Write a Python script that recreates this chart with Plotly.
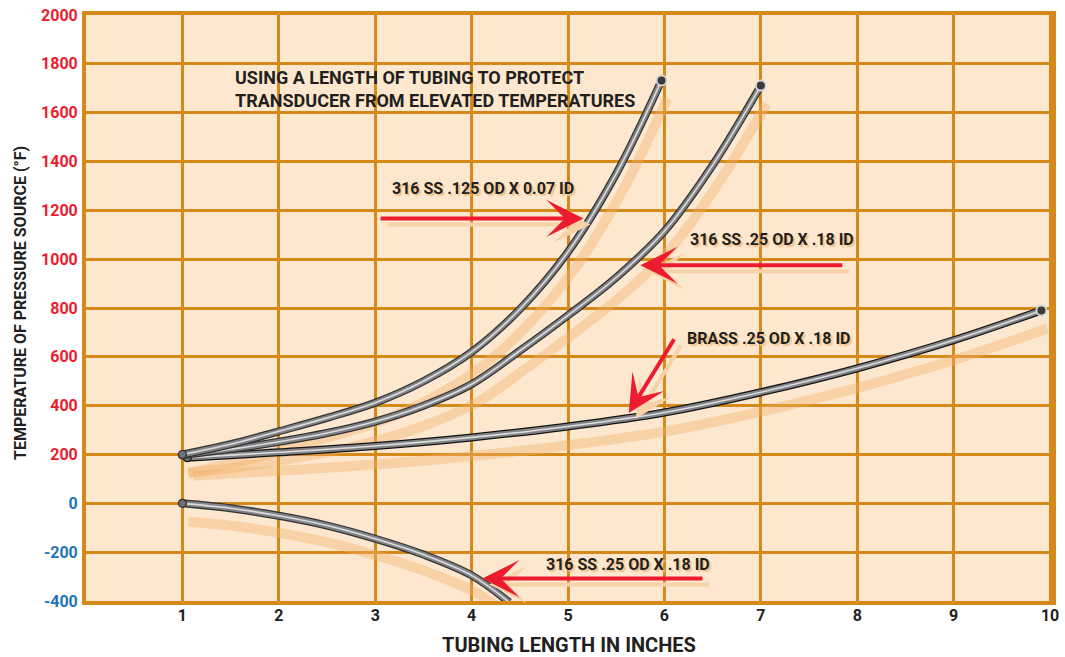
import plotly.graph_objects as go

# ---------------- data ----------------
x_ticks = [1, 2, 3, 4, 5, 6, 7, 8, 9, 10]
y_ticks = [-400, -200, 0, 200, 400, 600, 800, 1000, 1200, 1400, 1600, 1800, 2000]

# 316 SS .125 OD X 0.07 ID
ss125_x = [1, 1.5, 2, 2.5, 3, 3.5, 4, 4.5, 5, 5.5, 5.97]
ss125_y = [200, 242, 295, 350, 412, 500, 620, 795, 1030, 1350, 1732]
# 316 SS .25 OD X .18 ID (heating)
ss25_x = [1, 1.5, 2, 2.5, 3, 3.5, 4, 4.5, 5, 5.5, 6, 6.5, 7.0]
ss25_y = [198, 222, 252, 288, 335, 400, 488, 625, 770, 925, 1115, 1385, 1711]
# BRASS .25 OD X .18 ID
brass_x = [1.05, 2, 3, 4, 5, 6, 7, 8, 9, 9.91]
brass_y = [187, 209, 235, 270, 315, 372, 455, 553, 668, 790]
# 316 SS .25 OD X .18 ID (cryogenic)
cryo_x = [1, 1.5, 2, 2.5, 3, 3.5, 4, 4.39]
cryo_y = [0, -20, -51, -91, -145, -210, -295, -405]

title_text = "USING A LENGTH OF TUBING TO PROTECT<br>TRANSDUCER FROM ELEVATED TEMPERATURES"
labels = ["316 SS .125 OD X 0.07 ID", "316 SS .25 OD X .18 ID",
          "BRASS .25 OD X .18 ID", "316 SS .25 OD X .18 ID"]
label_x = [4.12, 7.12, 7.08, 5.62]
label_y = [1289, 1081, 674, -251]
arrow_tail_x = [3.04, 7.86, 6.11, 6.41]
arrow_tail_y = [1167, 975, 678, -308]
arrow_tip_x = [5.16, 5.75, 5.63, 4.11]
arrow_tip_y = [1167, 975, 370, -308]

# ---------------- styles ----------------
FONT = "Roboto, Liberation Sans, Arial, sans-serif"
BG = "#fde8cf"
GRID = "#d6891b"
RED = "#ec1c2e"
BLUE = "#1c75bc"
DARK = "#231f20"
SHADOW = "rgba(240,178,105,0.40)"
SH_DX, SH_DY = 0.06, -74

fig = go.Figure()

curves = [(brass_x, brass_y, "#141414"), (ss25_x, ss25_y, "#333333"),
          (ss125_x, ss125_y, "#333333"), (cryo_x, cryo_y, "#333333")]

# shadows first
for cx, cy, _ in curves:
    fig.add_trace(go.Scatter(x=[v + SH_DX for v in cx], y=[v + SH_DY for v in cy],
                             mode="lines", line=dict(color=SHADOW, width=10, shape="spline"),
                             hoverinfo="skip", showlegend=False))

for cx, cy, edge in curves:
    fig.add_trace(go.Scatter(x=cx, y=cy, mode="lines",
                             line=dict(color=edge, width=8, shape="spline"),
                             hoverinfo="skip", showlegend=False))
    fig.add_trace(go.Scatter(x=cx, y=cy, mode="lines",
                             line=dict(color="#808285", width=5.5, shape="spline"),
                             hoverinfo="skip", showlegend=False))
    fig.add_trace(go.Scatter(x=cx, y=cy, mode="lines",
                             line=dict(color="#dcdcdd", width=1.6, shape="spline"),
                             hoverinfo="skip", showlegend=False))
    # rounded closed start
    fig.add_trace(go.Scatter(x=[cx[0]], y=[cy[0]], mode="markers", cliponaxis=False,
                             marker=dict(size=8, color="#707174", line=dict(color=edge, width=1.2)),
                             hoverinfo="skip", showlegend=False))
    # open tube end
    fig.add_trace(go.Scatter(x=[cx[-1]], y=[cy[-1]], mode="markers", cliponaxis=False,
                             marker=dict(size=10, color="#3a3a3a", line=dict(color="#d5d5d5", width=2)),
                             hoverinfo="skip", showlegend=False))

annotations = []
# arrows: shadow then red
for i in range(len(labels)):
    for col, xs, ys in [("#f7d2a6", 7, -6), (RED, 0, 0)]:
        annotations.append(dict(
            x=arrow_tip_x[i], y=arrow_tip_y[i], ax=arrow_tail_x[i], ay=arrow_tail_y[i],
            xref="x", yref="y", axref="x", ayref="y", text="", showarrow=True,
            arrowhead=3, arrowsize=1.55, arrowwidth=4, arrowcolor=col,
            xshift=xs, yshift=ys, standoff=0, startstandoff=0))
    annotations.append(dict(
        x=label_x[i], y=label_y[i], xref="x", yref="y", text=labels[i], showarrow=False,
        font=dict(family=FONT, size=16, color=DARK, weight="bold",
                  shadow="2px 2px 1px #f1c28b")))

annotations.append(dict(
    x=1.52, y=1697, xref="x", yref="y", text=title_text, showarrow=False,
    xanchor="left", yanchor="middle", align="left",
    font=dict(family=FONT, size=18, color=DARK, weight="bold")))

# axis titles
annotations.append(dict(
    x=-0.068, y=0.509, xref="paper", yref="paper", text="TEMPERATURE OF PRESSURE SOURCE (°F)",
    showarrow=False, textangle=-90, xanchor="center", yanchor="middle",
    font=dict(family=FONT, size=16, color=DARK, weight="bold")))
annotations.append(dict(
    x=0.5, y=-0.075, xref="paper", yref="paper", text="TUBING LENGTH IN INCHES",
    showarrow=False, xanchor="center", yanchor="middle",
    font=dict(family=FONT, size=20, color=DARK, weight="bold")))

y_ticktext = [f'<span style="color:{BLUE if v <= 0 else RED}">{v}</span>' for v in y_ticks]

fig.update_layout(
    width=1065, height=657,
    margin=dict(l=86, r=6, t=12, b=56),
    paper_bgcolor="white", plot_bgcolor=BG,
    showlegend=False,
    annotations=annotations,
    xaxis=dict(range=[0, 10.02], tickvals=x_ticks, ticktext=[str(v) for v in x_ticks],
               showgrid=True, gridcolor=GRID, gridwidth=3, zeroline=False,
               showline=True, linecolor=GRID, linewidth=4, mirror=True,
               ticks="", ticklabelstandoff=-3,
               tickfont=dict(family=FONT, size=16, color=DARK, weight="bold")),
    yaxis=dict(range=[-400, 2000], tickvals=y_ticks, ticktext=y_ticktext,
               showgrid=True, gridcolor=GRID, gridwidth=3, zeroline=False,
               showline=True, linecolor=GRID, linewidth=4, mirror=True,
               ticks="", ticklabelstandoff=1,
               tickfont=dict(family=FONT, size=16, color=RED, weight="bold")),
)

fig.write_html("out.html", post_script="document.body.style.margin='0';",
               config={"displayModeBar": False})
